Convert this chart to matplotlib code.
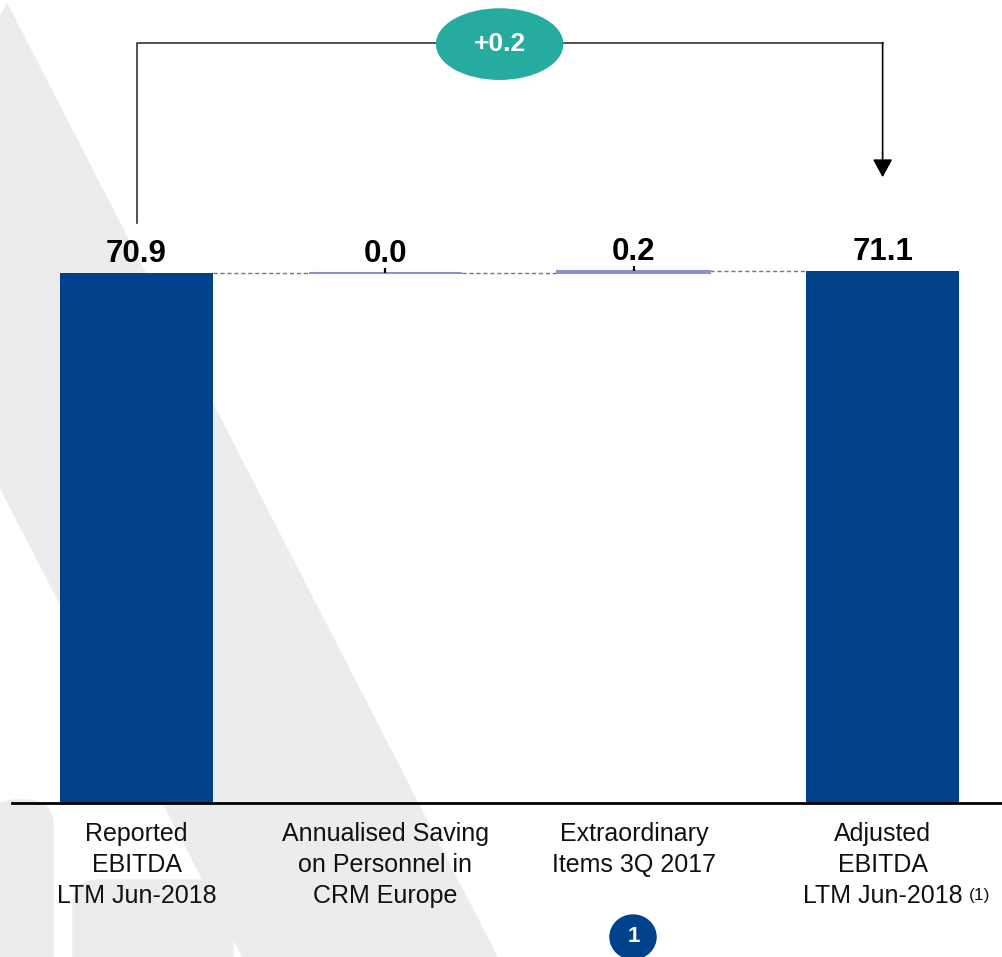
import matplotlib.pyplot as plt
from matplotlib.patches import Ellipse, Polygon, FancyBboxPatch, Circle

# data
categories = ["Reported\nEBITDA\nLTM Jun-2018",
              "Annualised Saving\non Personnel in\nCRM Europe",
              "Extraordinary\nItems 3Q 2017",
              "Adjusted\nEBITDA\nLTM Jun-2018"]
values = [70.9, 0.0, 0.2, 71.1]
is_total = [True, False, False, True]
value_labels = ["70.9", "0.0", "0.2", "71.1"]
bridge_label = "+0.2"

blue = "#00418b"
lav = "#8c93c9"
teal = "#26ab9f"
grey_bg = "#ececec"

plt.rcParams['font.family'] = ['Liberation Sans', 'DejaVu Sans']

W, H = 1002, 957
fig = plt.figure(figsize=(W / 100, H / 100), dpi=100)

# pixel coords (from top-left) -> figure coords
def px(x, y):
    return (x / W, 1 - y / H)

ax = fig.add_axes([0, 0, 1, 1])
ax.set_xlim(-0.549, 3.480)
ax.set_ylim(-20.6, 107.4)
ax.axis('off')

# watermark in the background
band = Polygon([px(0, 18), px(7, 4), px(497, 957), px(243, 957), px(0, 487)],
               closed=True, transform=fig.transFigure, color=grey_bg, zorder=0)
ax.add_patch(band)
for (x0, y0, w, h) in [(-10, 800, 63, 200), (73, 880, 160, 120)]:
    p = FancyBboxPatch(px(x0, y0 + h), w / W, h / H,
                       boxstyle="round,pad=0,rounding_size=0.027",
                       transform=fig.transFigure, color=grey_bg, zorder=0)
    ax.add_patch(p)

# waterfall
x = list(range(len(values)))
bottoms = []
tops = []
running = 0
for v, tot in zip(values, is_total):
    if tot:
        bottoms.append(0)
        running = v
    else:
        bottoms.append(running)
        running = running + v
    tops.append(bottoms[-1] + v)

width = 0.615
for i in x:
    if is_total[i]:
        ax.bar(i, values[i], bottom=bottoms[i], width=width, color=blue, zorder=3)
    else:
        ax.bar(i, values[i], bottom=bottoms[i], width=width, color=lav,
               edgecolor=lav, linewidth=1.5, zorder=3)
        ax.vlines(i, tops[i], tops[i] + 0.7, color='black', lw=1.6, zorder=4)

# dashed connectors
for i in range(len(values) - 1):
    ax.plot([i + width / 2, i + 1 - width / 2], [tops[i], tops[i]],
            ls=(0, (3, 2)), color='#777777', lw=1, zorder=2)

# value labels
for i in x:
    ax.annotate(value_labels[i], (i, tops[i]), xytext=(0, 8),
                textcoords='offset points', ha='center', va='baseline',
                fontsize=22.5, fontweight='bold', color='black', zorder=5)

# baseline
ax.axhline(0, xmin=12 / W, xmax=1, color='black', lw=2, zorder=4)

# category labels
for i in x:
    ax.text(i, -2.5, categories[i], ha='center', va='top', fontsize=18,
            linespacing=1.38, color='#111111', zorder=5)
ax.text(3.345, -12.4, "(1)", ha='left', va='center', fontsize=12.5,
        color='#111111', zorder=5)

# bracket showing the bridge
yb = 101.7
ax.plot([0, 0, 3], [77.6, yb, yb], color='#333333', lw=1.2, zorder=2)
ax.annotate("", xy=(3, 83.7), xytext=(3, yb),
            arrowprops=dict(arrowstyle='-|>,head_length=0.55,head_width=0.3',
                            mutation_scale=20, color='black', lw=1.2,
                            shrinkA=0, shrinkB=0))
ell = Ellipse((1.46, 101.5), 0.507, 9.4, color=teal, zorder=5)
ax.add_patch(ell)
ax.text(1.46, 101.5, bridge_label, ha='center', va='center', fontsize=19,
        fontweight='bold', color='white', zorder=6)

# footnote marker circle
circ = Circle(px(633, 937), 22 / H, transform=fig.transFigure, color=blue, zorder=5)
ax.add_patch(circ)
ax.text(2, -17.9, "1", ha='center', va='center', fontsize=16,
        fontweight='bold', color='white', zorder=6)

fig.savefig("out.png", dpi=100)
